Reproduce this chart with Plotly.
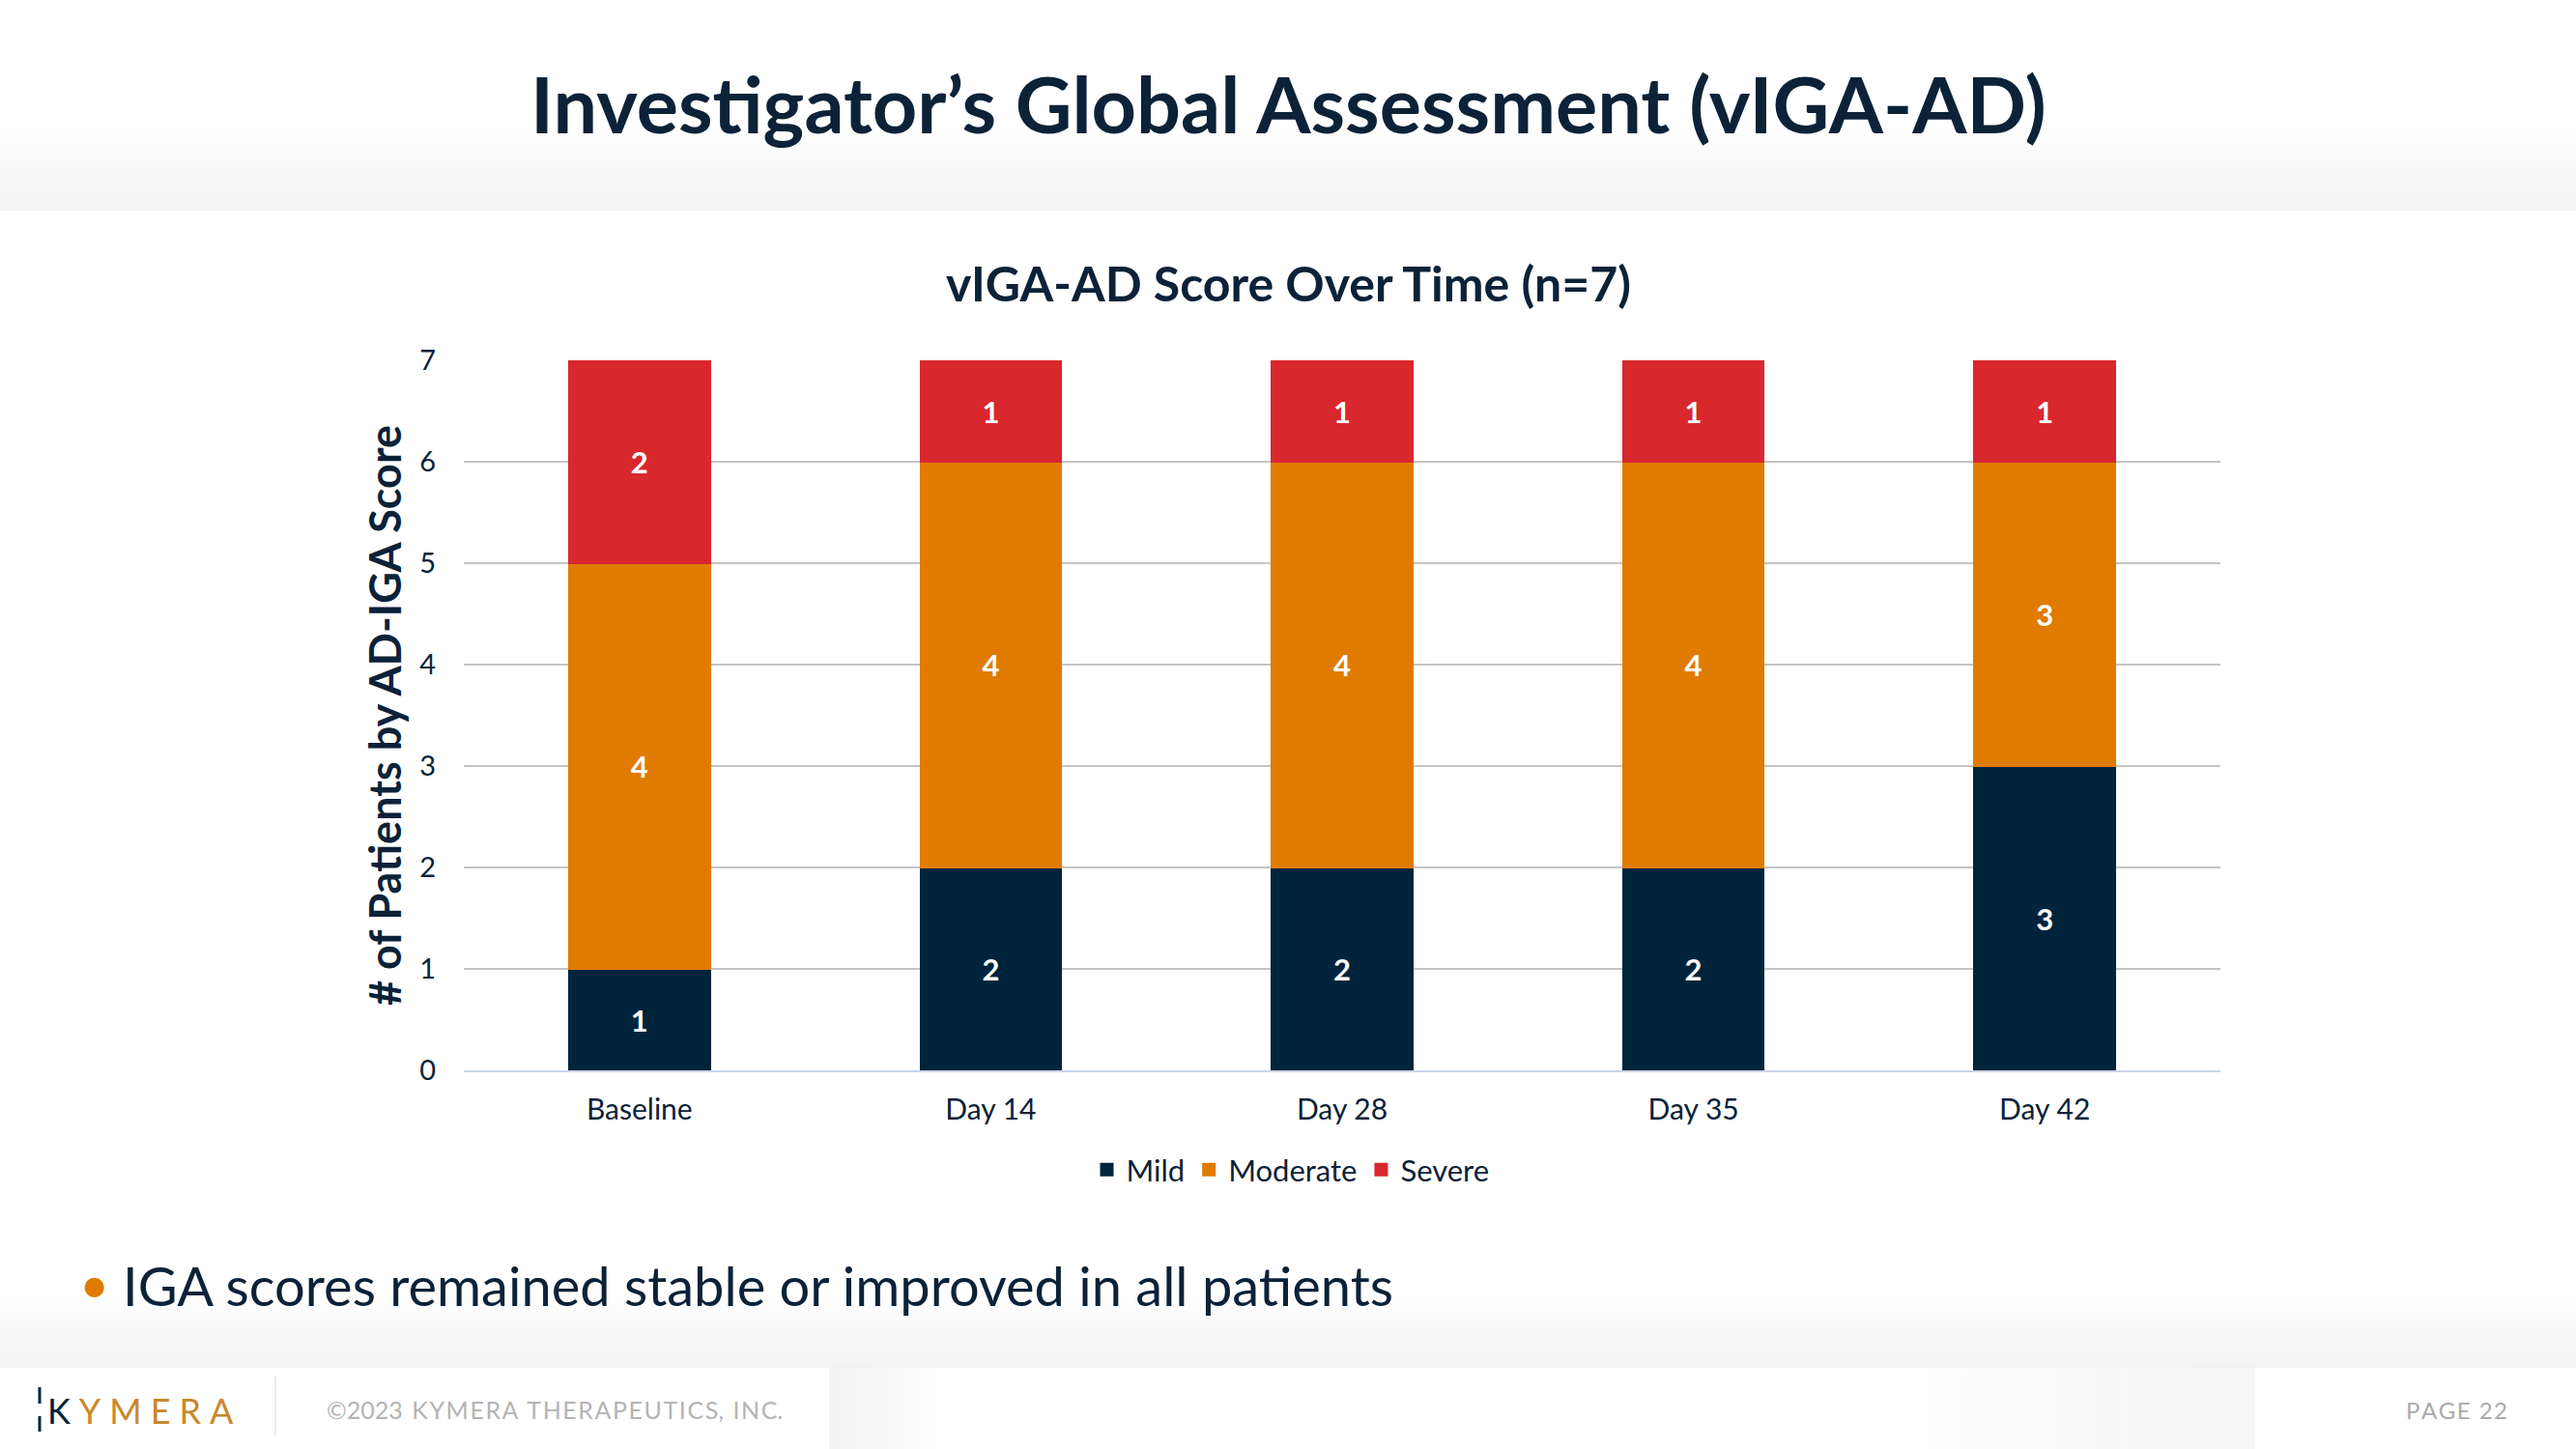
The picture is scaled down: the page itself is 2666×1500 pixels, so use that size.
import plotly.graph_objects as go

# ---- data ----
categories = ["Baseline", "Day 14", "Day 28", "Day 35", "Day 42"]
mild = [1, 2, 2, 2, 3]
moderate = [4, 4, 4, 4, 3]
severe = [2, 1, 1, 1, 1]
y_ticks = [0, 1, 2, 3, 4, 5, 6, 7]

NAVY = "#00243b"
ORANGE = "#e07b00"
RED = "#d9272e"
TXT = "#0b2238"

W, H = 2666, 1500
PL, PR, PT, PB = 480, 368, 373, 392
PW = W - PL - PR
PH = H - PT - PB


def px(x):
    return (x - PL) / PW


def py(y):
    return (H - PB - y) / PH


fig = go.Figure()
for name, vals, col in [("Mild", mild, NAVY), ("Moderate", moderate, ORANGE), ("Severe", severe, RED)]:
    fig.add_trace(go.Bar(
        name=name, x=categories, y=vals,
        marker=dict(color=col, line=dict(color=col, width=2)),
        texttemplate="%{y}", textposition="inside", insidetextanchor="middle",
        textangle=0,
        textfont=dict(family="Lato", size=31, color="white", weight="bold"),
    ))

shapes = []


def hex_grey(v):
    v = int(round(v))
    return "#%02x%02x%02x" % (v, v, v)


# top header gradient
y0, y1 = 128, 218
n = 24
for i in range(n):
    a = y0 + (y1 - y0) * i / n
    b = y0 + (y1 - y0) * (i + 1) / n
    g = 255 - (255 - 243) * ((i + 0.5) / n)
    shapes.append(dict(type="rect", xref="paper", yref="paper", x0=px(0), x1=px(W),
                       y0=py(b), y1=py(a), fillcolor=hex_grey(g), line=dict(width=0), layer="below"))
# bottom gradient before footer
y0, y1 = 1335, 1416
for i in range(n):
    a = y0 + (y1 - y0) * i / n
    b = y0 + (y1 - y0) * (i + 1) / n
    g = 255 - (255 - 243) * ((i + 0.5) / n)
    shapes.append(dict(type="rect", xref="paper", yref="paper", x0=px(0), x1=px(W),
                       y0=py(b), y1=py(a), fillcolor=hex_grey(g), line=dict(width=0), layer="below"))
# footer horizontal gradients
m = 12
for i in range(m):
    a = 858 + (990 - 858) * i / m
    b = 858 + (990 - 858) * (i + 1) / m
    g = 244 + (255 - 244) * ((i + 0.5) / m)
    shapes.append(dict(type="rect", xref="paper", yref="paper", x0=px(a), x1=px(b),
                       y0=py(H), y1=py(1416), fillcolor=hex_grey(g), line=dict(width=0), layer="below"))
for i in range(m):
    a = 1930 + (2334 - 1930) * i / m
    b = 1930 + (2334 - 1930) * (i + 1) / m
    g = 255 - (255 - 246) * ((i + 0.5) / m)
    shapes.append(dict(type="rect", xref="paper", yref="paper", x0=px(a), x1=px(b),
                       y0=py(H), y1=py(1416), fillcolor=hex_grey(g), line=dict(width=0), layer="below"))
# footer divider
shapes.append(dict(type="line", xref="paper", yref="paper", x0=px(285), x1=px(285),
                   y0=py(1486), y1=py(1424), line=dict(color="#e4e4e4", width=1.5)))
# logo mark
shapes.append(dict(type="line", xref="paper", yref="paper", x0=px(41), x1=px(41),
                   y0=py(1453), y1=py(1436), line=dict(color=NAVY, width=3)))
shapes.append(dict(type="line", xref="paper", yref="paper", x0=px(41), x1=px(41),
                   y0=py(1482), y1=py(1466), line=dict(color=NAVY, width=3)))

SP = "\u2005"
annotations = [
    dict(text="Investigator’s Global Assessment (vIGA-AD)", xref="paper", yref="paper",
         x=px(1333), y=py(107), xanchor="center", yanchor="middle", showarrow=False,
         font=dict(family="Lato", size=81, color=TXT, weight="bold")),
    dict(text="vIGA-AD Score Over Time (n=7)", xref="paper", yref="paper",
         x=px(1333), y=py(293), xanchor="center", yanchor="middle", showarrow=False,
         font=dict(family="Lato", size=50, color=TXT, weight="bold")),
    dict(text="•", xref="paper", yref="paper",
         x=px(97), y=py(1328), xanchor="center", yanchor="middle", showarrow=False,
         font=dict(family="Lato", size=54, color=ORANGE)),
    dict(text="IGA scores remained stable or improved in all patients", xref="paper", yref="paper",
         x=px(125), y=py(1330), xanchor="left", yanchor="middle", showarrow=False,
         font=dict(family="Lato", size=56, color=TXT)),
    dict(text=("<span style='color:%s'>K</span>" % NAVY) + SP + SP.join("YMERA"),
         xref="paper", yref="paper",
         x=px(47), y=py(1460), xanchor="left", yanchor="middle", showarrow=False,
         font=dict(family="Lato", size=36, color="#c8882a")),
    dict(text="©2023\u2009 K\u200aY\u200aM\u200aE\u200aR\u200aA\u2009 T\u200aH\u200aE\u200aR\u200aA\u200aP\u200aE\u200aU\u200aT\u200aI\u200aC\u200aS,\u2009 I\u200aN\u200aC.",
         xref="paper", yref="paper",
         x=px(336), y=py(1459), xanchor="left", yanchor="middle", showarrow=False,
         font=dict(family="Lato", size=25, color="#b4b4b4")),
    dict(text="P\u200aA\u200aG\u200aE\u2009 2\u200a2", xref="paper", yref="paper",
         x=px(2597), y=py(1459), xanchor="right", yanchor="middle", showarrow=False,
         font=dict(family="Lato", size=24, color="#aaaaaa")),
]

fig.update_layout(
    width=W, height=H,
    margin=dict(l=PL, r=PR, t=PT, b=PB, pad=0),
    paper_bgcolor="white", plot_bgcolor="rgba(0,0,0,0)",
    barmode="stack", bargap=0.6,
    font=dict(family="Lato", color=TXT),
    showlegend=True,
    legend=dict(orientation="h", x=px(1336), xanchor="center", y=py(1211), yanchor="middle",
                font=dict(family="Lato", size=31, color=TXT), traceorder="normal",
                itemwidth=30, bgcolor="rgba(0,0,0,0)"),
    shapes=shapes, annotations=annotations,
)
fig.update_xaxes(showline=True, linecolor="#c9d5ea", linewidth=2, showgrid=False,
                 tickfont=dict(family="Lato", size=30, color=TXT), ticks="",
                 ticklabelstandoff=13, fixedrange=True)
fig.update_yaxes(range=[0, 7], tickvals=y_ticks, showgrid=True, gridcolor="#c4c4c4", gridwidth=2,
                 zeroline=False, showline=False,
                 tickfont=dict(family="Lato", size=29, color=TXT), ticks="",
                 ticklabelstandoff=28,
                 title=dict(text="# of Patients by AD-IGA Score", standoff=4,
                            font=dict(family="Lato", size=45, color=TXT, weight="bold")),
                 fixedrange=True)

fig.write_html("out.html")
